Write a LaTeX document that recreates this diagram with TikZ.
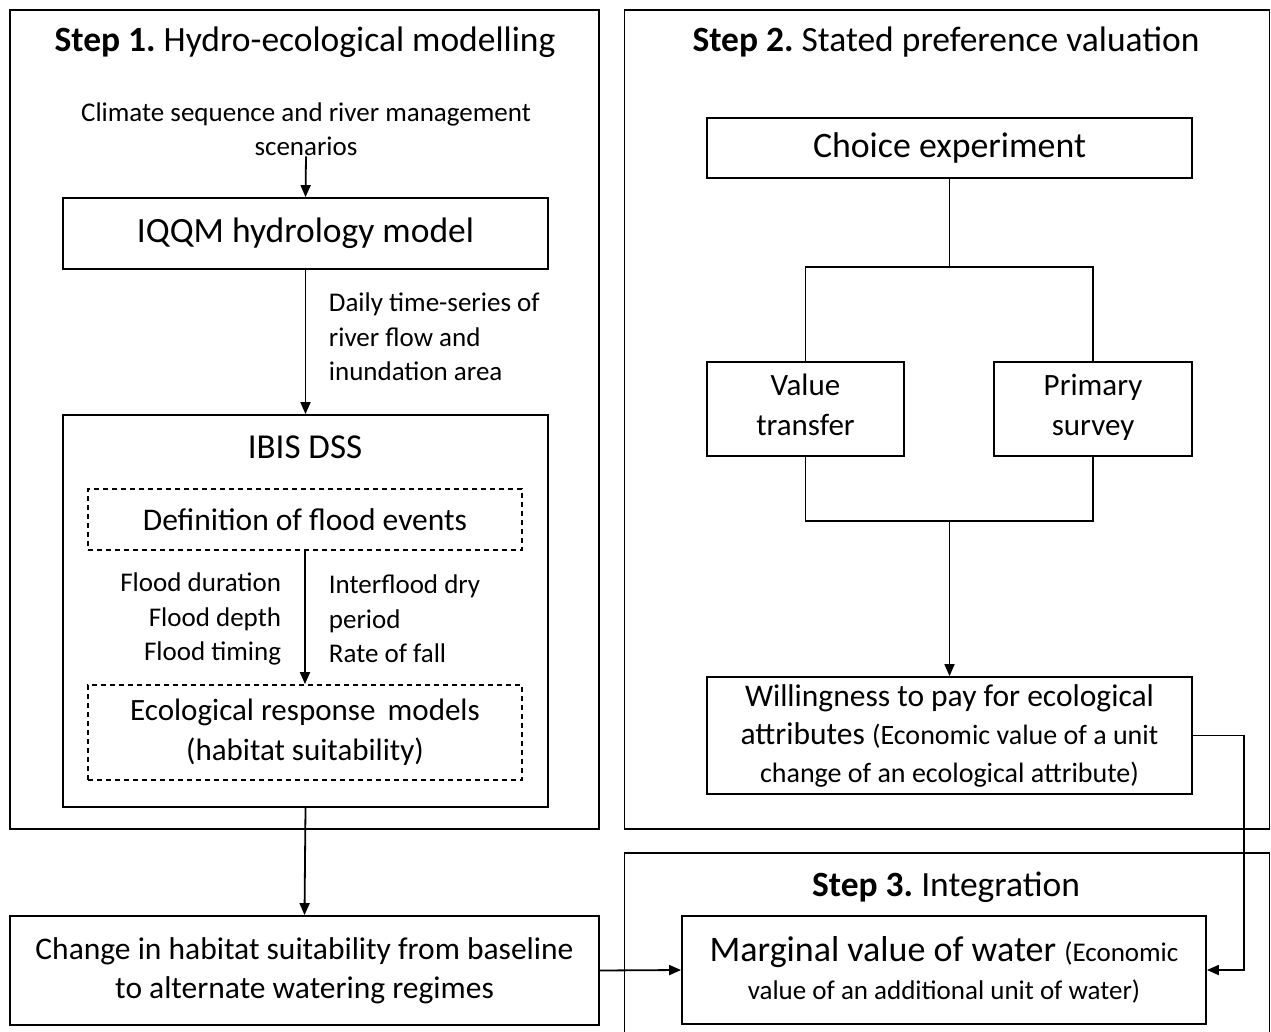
\documentclass[tikz,border=0pt]{standalone}
\usepackage{fontspec}
\setmainfont{Carlito}
\usetikzlibrary{arrows.meta, positioning, calc}

\newcommand{\fsz}[2]{\fontsize{#1}{#2}\selectfont}
\frenchspacing

\begin{document}
\begin{tikzpicture}[x=1pt, y=-1pt, >={Triangle[length=12pt, width=10pt]}, line width=1.8pt,
        box/.style={draw, minimum width=#1, inner sep=0pt, align=center},
        dbox/.style={box=#1, dashed, dash pattern=on 5pt off 4pt},
        txt/.style={inner sep=0pt, align=center}]
        \useasboundingbox (0,0) rectangle (1271,1032);
        % Step frames
        \node[box=589pt, minimum height=819pt] (stepA) at (304.5,419.5) {};
        \node[box=645pt, minimum height=819pt] (stepB) at (947,419.5) {};
        \node[box=645pt, minimum height=200pt] (stepC) at (947,953) {};
        \node[txt, font=\fsz{35.5}{42}] (titleA) at (305,42) {\textbf{Step 1.} Hydro-ecological modelling};
        \node[txt, font=\fsz{35.5}{42}] (titleB) at (946,42) {\textbf{Step 2.} Stated preference valuation};
        \node[txt, font=\fsz{35.5}{42}] (titleC) at (946,887) {\textbf{Step 3.} Integration};

        % Step 1
        \node[txt, font=\fsz{27}{34}] (climate) at (306,129)
            {Climate sequence and river management\\scenarios};
        \node[box=485pt, minimum height=71pt, font=\fsz{35.5}{42}] (iqqm) at (305.5,233.5) {IQQM hydrology model};
        \node[box=485pt, minimum height=392pt] (ibis) at (305.5,611) {};
        \node[txt, font=\fsz{35}{42}] (ibistxt) at (305,447) {IBIS DSS};
        \node[dbox=434pt, minimum height=61pt, font=\fsz{31.5}{40}] (defn) at (305,519.5) {Definition of flood events};
        \node[dbox=434pt, minimum height=95pt, font=\fsz{31}{40}] (eco) at (305,732.5)
            {Ecological response\, models\\(habitat suitability)};
        \node[txt, font=\fsz{27}{34.5}, align=left, anchor=west] (daily) at (328,337)
            {Daily time-series of\\river flow and\\inundation area};
        \node[txt, font=\fsz{27}{34.5}, align=right, anchor=east] (floodL) at (282,619)
            {Flood duration\\Flood depth\\Flood timing};
        \node[txt, font=\fsz{27}{34.5}, align=left, anchor=west] (floodR) at (328,619)
            {Interflood dry\\period\\Rate of fall};
        \node[box=589pt, minimum height=109pt, font=\fsz{31.5}{39}] (change) at (304.5,970.5)
            {Change in habitat suitability from baseline\\to alternate watering regimes};

        \draw[->] (climate.south) -- (iqqm.north);
        \draw[->] (iqqm.south) -- (ibis.north);
        \draw[->] (defn.south) -- (eco.north);
        \draw[->] (ibis.south) -- (change.north);

        % Step 2
        \node[box=485pt, minimum height=60pt, font=\fsz{35.8}{42}] (choice) at (949.5,148) {Choice experiment};
        \node[box=197pt, minimum height=94pt, text depth=8pt, font=\fsz{31}{40}] (transfer) at (805.5,409) {Value\\transfer};
        \node[box=198pt, minimum height=94pt, text depth=8pt, font=\fsz{31}{40}] (survey) at (1093,409) {Primary\\survey};
        \node[box=485pt, minimum height=117pt, font=\fsz{31.5}{38}] (wtp) at (949.5,735.5)
            {Willingness to pay for ecological\\attributes {\fsz{28}{38}(Economic value of a unit}\\{\fsz{28}{36}change of an ecological attribute)}};
        \coordinate (split) at (949.5,267);
        \coordinate (merge) at (949.5,521);
        \coordinate (elbow) at (1244,0);

        \draw (choice.south) -- (split);
        \draw (transfer.north) |- (split) -| (survey.north);
        \draw (transfer.south) |- (merge) -| (survey.south);
        \draw[->] (merge) -- (wtp.north);

        % Step 3
        \node[box=524pt, minimum height=108pt, font=\fsz{36}{38}] (marginal) at (944,970)
            {Marginal value of water {\fsz{27}{38}(Economic}\\{\fsz{27}{38}value of an additional unit of water)}};
        \draw[->] (change.east) -- (marginal.west);
        \draw[->] (wtp.east) -- (wtp.east -| elbow) |- (marginal.east);
\end{tikzpicture}
\end{document}
